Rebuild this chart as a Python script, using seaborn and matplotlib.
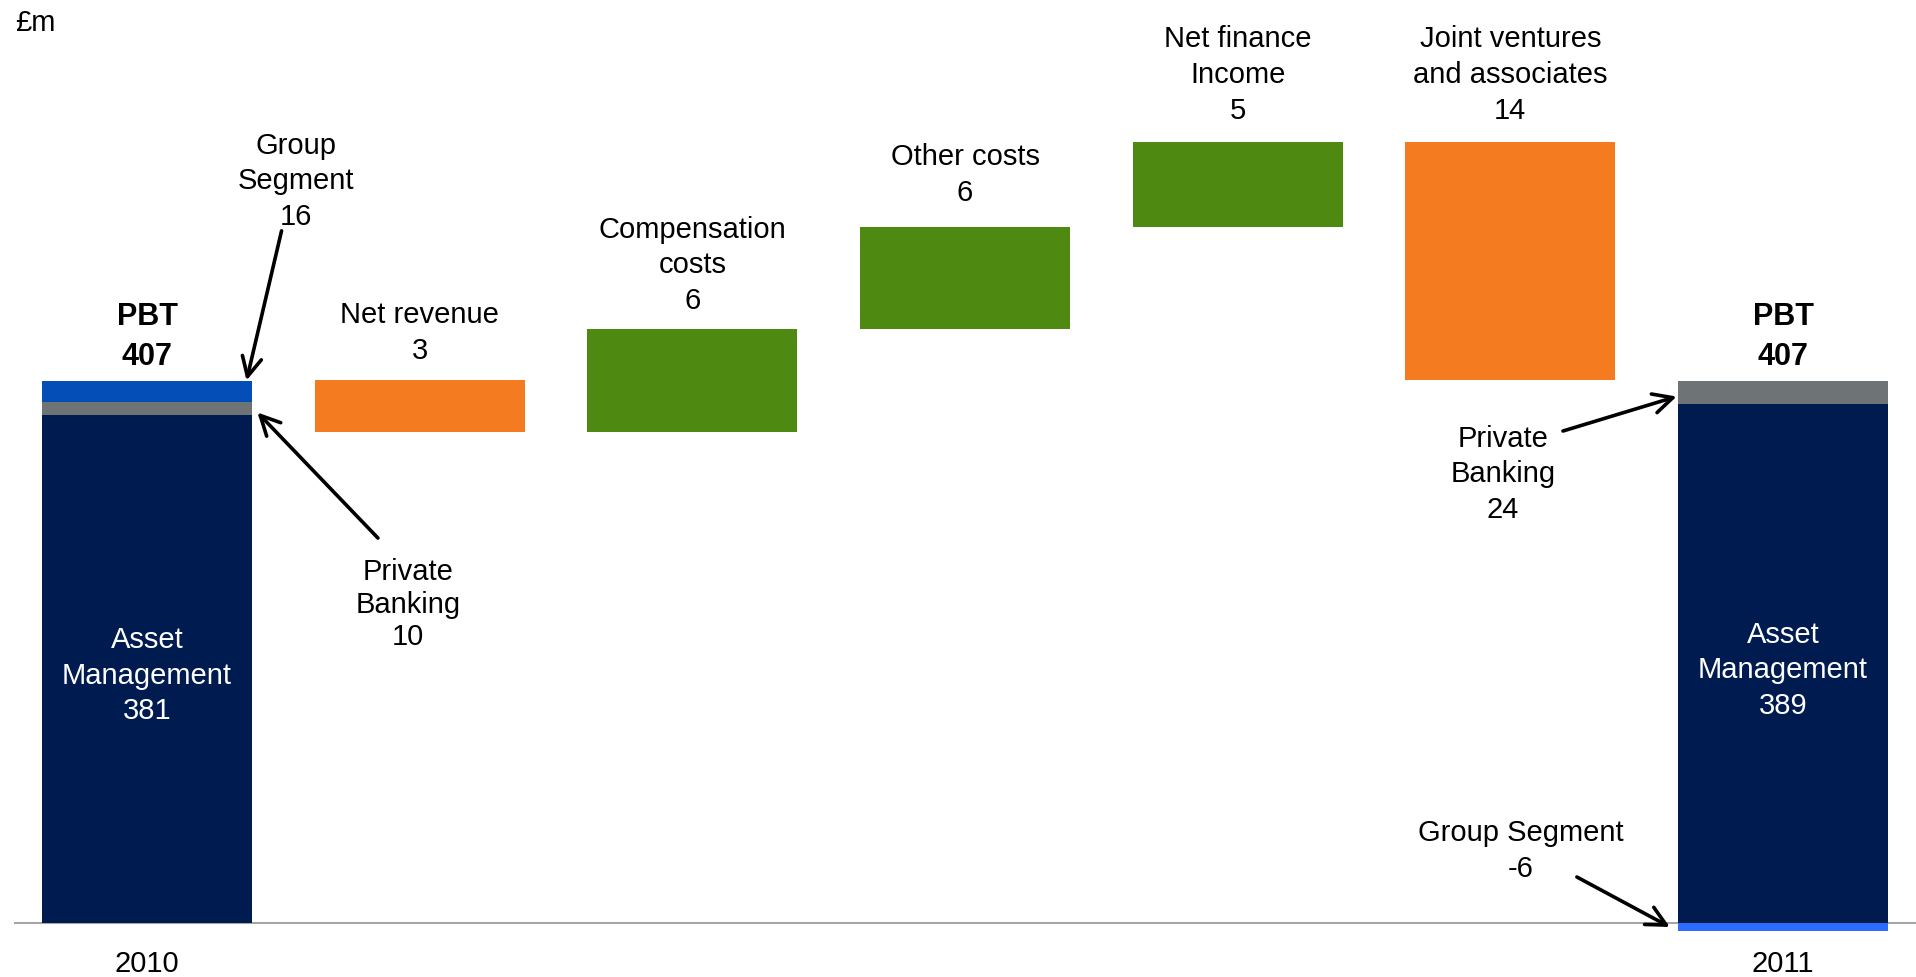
import numpy as np
import matplotlib
matplotlib.use("Agg")
import matplotlib.pyplot as plt
import seaborn as sns

# ---------------- data ----------------
categories = ["2010", "Net revenue", "Compensation costs", "Other costs",
              "Net finance income", "Joint ventures and associates", "2011"]
year_labels = ["2010", "2011"]
delta_labels = ["Net revenue", "Compensation\ncosts", "Other costs",
                "Net finance\nIncome", "Joint ventures\nand associates"]
deltas = [-3, 6, 6, 5, -14]

pbt_2010 = 407
am_2010, pb_2010, gs_2010 = 381, 10, 16
pbt_2011 = 407
am_2011, pb_2011, gs_2011 = 389, 24, -6

# ---------------- style ----------------
NAVY = "#001B50"
GREY = "#6E7376"
BLUE_2010 = "#044EB8"
BLUE_2011 = "#2B6CFF"
ORANGE = "#F47B20"
GREEN = "#4E8A11"

sns.set_style("white")
plt.rcParams["font.family"] = ["Liberation Sans", "DejaVu Sans"]
plt.rcParams["text.color"] = "black"
plt.rcParams["xtick.color"] = "black"
plt.rcParams["xtick.labelcolor"] = "black"

W, H = 1916, 978
fig = plt.figure(figsize=(W / 100, H / 100), dpi=100)
ax_left_px, ax_right_px, ax_top_px, ax_bot_px = 14, 1916, 0, 940
ax = fig.add_axes([ax_left_px / W, 1 - ax_bot_px / H,
                   (ax_right_px - ax_left_px) / W, (ax_bot_px - ax_top_px) / H])
ax2 = ax.twinx()

BAR_W = 0.77

def bar(axis, cat, height, bottom, color):
    sns.barplot(x=[cat], y=[height], order=categories, bottom=bottom,
                color=color, width=BAR_W, saturation=1, linewidth=0,
                edgecolor="none", errorbar=None, ax=axis)

# ---- totals (main axis) ----
bar(ax, "2010", am_2010, 0, NAVY)
bar(ax, "2010", pb_2010, am_2010, GREY)
bar(ax, "2010", gs_2010, am_2010 + pb_2010, BLUE_2010)

bar(ax, "2011", am_2011, 0, NAVY)
bar(ax, "2011", pbt_2011 - am_2011, am_2011, GREY)
bar(ax, "2011", gs_2011, 0, BLUE_2011)

# ---- waterfall deltas (twin axis, expanded scale) ----
deltas_arr = np.array(deltas)
starts = pbt_2010 + np.concatenate([[0], np.cumsum(deltas_arr)[:-1]])
ends = starts + deltas_arr
bottoms = np.minimum(starts, ends)
tops = np.maximum(starts, ends)
for i, d in enumerate(deltas_arr):
    bar(ax2, categories[i + 1], abs(d), bottoms[i], GREEN if d > 0 else ORANGE)

# ---------------- scales ----------------
base_px, top_px = 924, 381.5
k_main = (base_px - top_px) / pbt_2010          # px per unit (totals)
ax.set_ylim((base_px - ax_bot_px) / k_main, (base_px - ax_top_px) / k_main)
k_delta = 17.04                                  # px per unit (deltas)
ax2.set_ylim(pbt_2010 - (ax_bot_px - top_px) / k_delta,
             pbt_2010 + (top_px - ax_top_px) / k_delta)
cat_px = 272.67
x0_px = 147
ax.set_xlim((ax_left_px - x0_px) / cat_px, (ax_right_px - x0_px) / cat_px)

ax.axhline(0, color="#A6A6A6", lw=1.5, zorder=0.5)

for a in (ax, ax2):
    for s in a.spines.values():
        s.set_visible(False)
    a.set_yticks([])
    a.set_ylabel("")
    a.set_xlabel("")
ax.set_xticks([0, 6])
ax.set_xticklabels(year_labels, fontsize=21)
ax.tick_params(axis="x", length=0, pad=7.5)

FS = 21
T = ax.transData  # main-scale coordinates, drawn on the top axes so nothing hides them
# ---------------- labels ----------------
fig.text(15 / W, 1 - 30.7 / H, "£m", ha="left", va="baseline", fontsize=FS)

for xi, tot in ((0, pbt_2010), (6, pbt_2011)):
    ax2.annotate(f"PBT\n{tot}", xy=(xi, tot), xycoords=T, xytext=(0, 6.5),
                 textcoords="offset points", ha="center", va="bottom",
                 fontsize=22, fontweight="bold", linespacing=1.45)

for xi, am in ((0, am_2010), (6, am_2011)):
    ax2.annotate(f"Asset\nManagement\n{am}", xy=(xi, am / 2), xycoords=T,
                 xytext=(0, -4), textcoords="offset points",
                 ha="center", va="center", color="white", fontsize=FS,
                 linespacing=1.35)

offsets = [12, 11, 15.5, 13, 13]
for i, (lab, d) in enumerate(zip(delta_labels, deltas_arr)):
    ax2.annotate(f"{lab}\n{abs(d)}", xy=(i + 1, tops[i]), xytext=(0, offsets[i]),
                 textcoords="offset points", ha="center", va="bottom",
                 fontsize=FS, linespacing=1.35)

ax2.text(0.548, 524.4, f"Group\nSegment\n{gs_2010}", transform=T, ha="center",
         va="baseline", fontsize=FS, linespacing=1.35)
ax2.text(0.957, 209.3, f"Private\nBanking\n{pb_2010}", transform=T, ha="center",
         va="baseline", fontsize=FS, linespacing=1.2)
ax2.text(4.973, 304.6, f"Private\nBanking\n{pb_2011}", transform=T, ha="center",
         va="baseline", fontsize=FS, linespacing=1.35)
ax2.text(5.039, 35.5, f"Group Segment\n{gs_2011}", transform=T, ha="center",
         va="baseline", fontsize=FS, linespacing=1.35)

arrow_kw = dict(arrowstyle="->, head_length=0.7, head_width=0.35", lw=2.6,
                color="black", mutation_scale=20, shrinkA=0, shrinkB=0)
edge = BAR_W / 2
ax2.annotate("", xy=(edge - 0.02, pbt_2010), xycoords=T,
             xytext=(0.4935, 519.3), textcoords=T, arrowprops=arrow_kw)
ax2.annotate("", xy=(edge + 0.02, am_2010 + 2), xycoords=T,
             xytext=(0.847, 288.8), textcoords=T, arrowprops=arrow_kw)
ax2.annotate("", xy=(6 - edge - 0.005, (am_2011 + pbt_2011) / 2 - 3), xycoords=T,
             xytext=(5.193, 369.1), textcoords=T, arrowprops=arrow_kw)
ax2.annotate("", xy=(6 - edge - 0.03, gs_2011 / 2), xycoords=T,
             xytext=(5.244, 34.5), textcoords=T, arrowprops=arrow_kw)

fig.savefig("out.png", dpi=100)
